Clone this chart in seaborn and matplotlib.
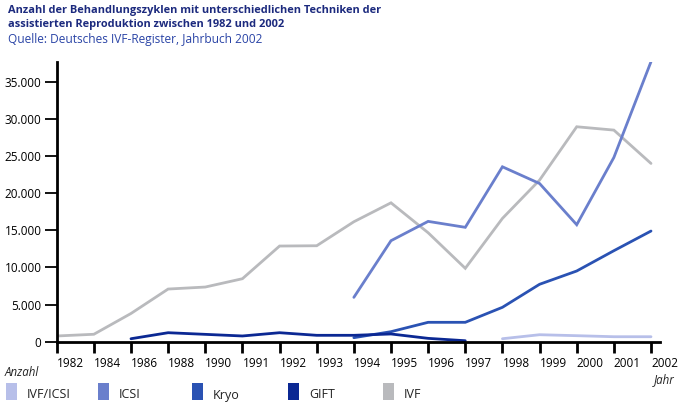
import numpy as np
import pandas as pd
import matplotlib
matplotlib.use("Agg")
import matplotlib.pyplot as plt
import matplotlib.transforms as mtransforms
from matplotlib.patches import Rectangle
import seaborn as sns

years = ["1982", "1984", "1986", "1988", "1990", "1991", "1992", "1993", "1994",
         "1995", "1996", "1997", "1998", "1999", "2000", "2001", "2002"]
nan = np.nan
ivf = [770, 1000, 3800, 7090, 7360, 8480, 12880, 12920, 16150, 18700, 14670, 9880,
       16600, 21760, 28940, 28490, 24000]
icsi = [nan, nan, nan, nan, nan, nan, nan, nan, 5970, 13600, 16200, 15400,
        23550, 21300, 15750, 24800, 37700]
kryo = [nan, nan, nan, nan, nan, nan, nan, nan, 540, 1350, 2610, 2610,
        4630, 7730, 9520, 12250, 14900]
gift = [nan, nan, 400, 1210, 990, 770, 1210, 860, 860, 1040, 450, 130,
        nan, nan, nan, nan, nan]
ivf_icsi = [nan, nan, nan, nan, nan, nan, nan, nan, nan, nan, nan, nan,
            400, 940, 810, 670, 670]

series_names = ["IVF/ICSI", "ICSI", "Kryo", "GIFT", "IVF"]
series_vals = [ivf_icsi, icsi, kryo, gift, ivf]
colors = ["#b7bfe9", "#6a7fcc", "#2a52b3", "#0b2893", "#b9babd"]
yticks = [0, 5000, 10000, 15000, 20000, 25000, 30000, 35000]
ytick_labels = ["0", "5.000", "10.000", "15.000", "20.000", "25.000", "30.000", "35.000"]

sns.set_style("white")
plt.rcParams["font.family"] = ["Open Sans", "DejaVu Sans"]

W, H = 685, 407
fig = plt.figure(figsize=(W / 100, H / 100), dpi=100)
ax = fig.add_axes([56.7 / W, 1 - 341.7 / H, (660 - 56.7) / W, (341.7 - 61.7) / H])

rows = []
for name, vals in zip(series_names, series_vals):
    for i, v in enumerate(vals):
        rows.append({"idx": i, "value": v, "series": name})
df = pd.DataFrame(rows)

order = ["IVF", "IVF/ICSI", "ICSI", "Kryo", "GIFT"]
cmap = dict(zip(series_names, colors))
for name in order:
    sub = df[df["series"] == name].dropna()
    sns.lineplot(data=sub, x="idx", y="value", color=cmap[name], lw=2.0,
                 ax=ax, legend=False, solid_joinstyle="miter")

ax.set_xlim(0, 16 + 9 / 37.15)
ax.set_ylim(0, 37700)
ax.set_xlabel("")
ax.set_ylabel("")
ax.set_xticks(range(len(years)))
ax.set_xticklabels(years, ha="left")
ax.set_yticks(yticks)
ax.set_yticklabels(ytick_labels)
offset = mtransforms.ScaledTranslation(3 / 100, 0, fig.dpi_scale_trans)
for lab in ax.get_xticklabels():
    lab.set_transform(lab.get_transform() + offset)
ax.tick_params(axis="x", direction="out", length=8, width=2, pad=3,
               labelsize=8.5, colors="black", bottom=True)
ax.tick_params(axis="y", direction="out", length=9, width=1.3, pad=2,
               labelsize=8.5, colors="black", left=True)
for s in ["top", "right"]:
    ax.spines[s].set_visible(False)
for s in ["left", "bottom"]:
    ax.spines[s].set_linewidth(2)
    ax.spines[s].set_color("black")
ax.patch.set_alpha(0)

fig.text(8 / W, 1 - 11 / H, "Anzahl der Behandlungszyklen mit unterschiedlichen Techniken der",
         fontsize=7.9, fontweight="bold", color="#1c2a7e", va="center", ha="left")
fig.text(8 / W, 1 - 25 / H, "assistierten Reproduktion zwischen 1982 und 2002",
         fontsize=7.9, fontweight="bold", color="#1c2a7e", va="center", ha="left")
fig.text(8 / W, 1 - 40 / H, "Quelle: Deutsches IVF-Register, Jahrbuch 2002",
         fontsize=8.6, color="#2a44a6", va="center", ha="left")

fig.text(5 / W, 1 - 373 / H, "Anzahl", fontsize=8.3, style="italic", color="#222222",
         va="center", ha="left")
fig.text(654 / W, 1 - 380 / H, "Jahr", fontsize=8.3, style="italic", color="#222222",
         va="center", ha="left")

patch_x = [6, 98, 192, 288, 383]
for px, name, col in zip(patch_x, series_names, colors):
    fig.add_artist(Rectangle((px / W, 1 - 400 / H), 11 / W, 17 / H,
                             transform=fig.transFigure, color=col, lw=0))
    fig.text((px + 21) / W, 1 - 395 / H, name, fontsize=9, color="#222222",
             va="center", ha="left")

fig.savefig("out.png", dpi=100)
